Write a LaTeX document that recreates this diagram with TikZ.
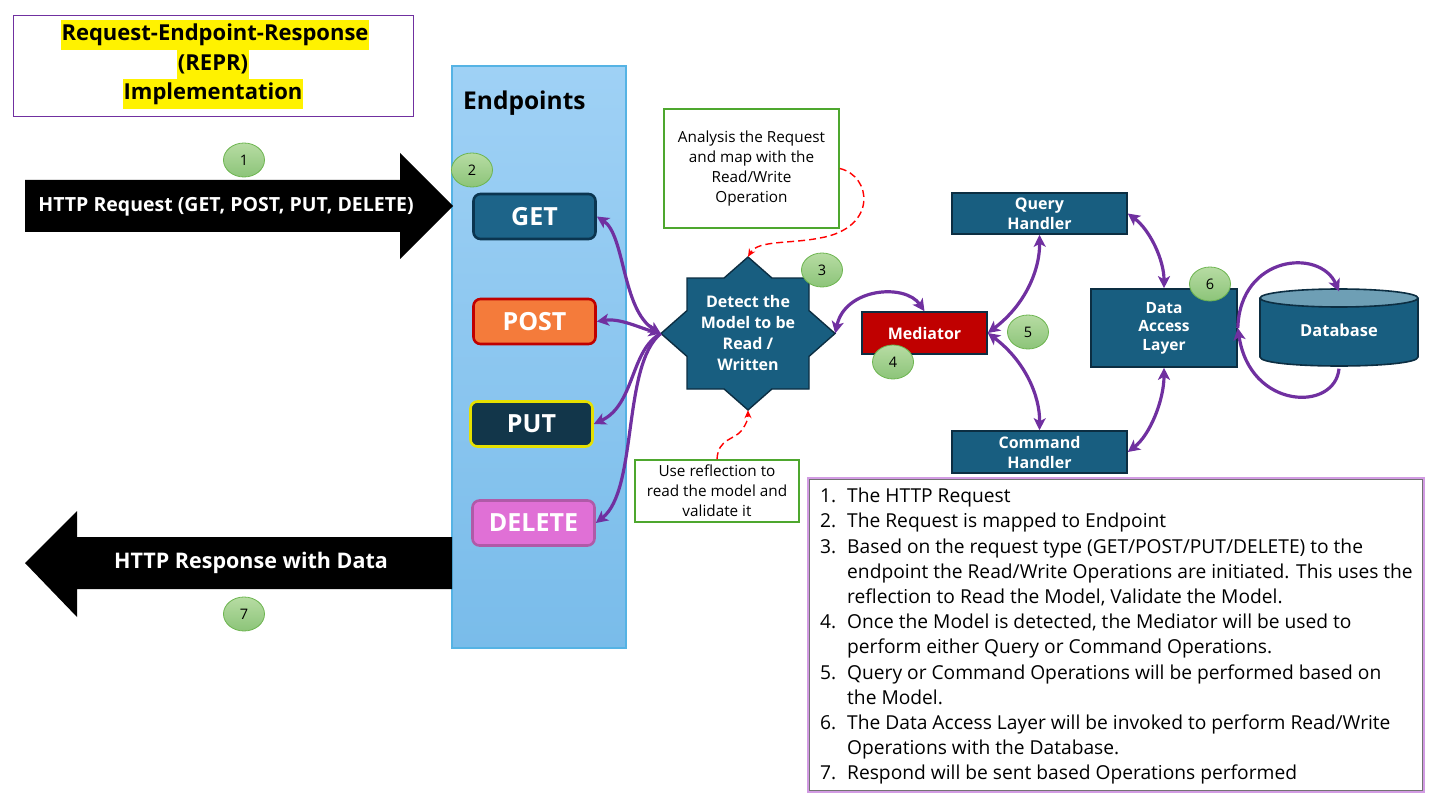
\documentclass[tikz,border=0pt]{standalone}
\usepackage{fontspec}
\setmainfont{Open Sans}
\newfontfamily\headfont{Open Sans}
\usetikzlibrary{shapes.geometric,arrows.meta}

\definecolor{navy}{HTML}{185E80}
\definecolor{navyedge}{HTML}{0C2E42}
\definecolor{medred}{HTML}{C00000}
\definecolor{linkpurple}{HTML}{7030A0}
\definecolor{notegreen}{HTML}{4EA72E}
\definecolor{badgetop}{HTML}{B7DCA3}
\definecolor{badgebot}{HTML}{8CC479}
\definecolor{badgeedge}{HTML}{6DB550}
\definecolor{paneltop}{HTML}{9FD1F5}
\definecolor{panelbot}{HTML}{79BCEA}
\definecolor{paneledge}{HTML}{55B3E4}
\definecolor{getfill}{HTML}{1D6489}
\definecolor{getedge}{HTML}{0B3550}
\definecolor{postfill}{HTML}{F47B3B}
\definecolor{postedge}{HTML}{C00000}
\definecolor{putfill}{HTML}{12364A}
\definecolor{putedge}{HTML}{E6E000}
\definecolor{delfill}{HTML}{E070D6}
\definecolor{deledge}{HTML}{B05AA8}
\definecolor{dbtop}{HTML}{6E9FB5}
\definecolor{listedge}{HTML}{D29BE3}
\definecolor{titleedge}{HTML}{7030A0}

\newcommand\fsz[2]{\fontsize{#1}{#2}\selectfont}

\tikzset{
  ptip/.tip={Stealth[length=12pt,width=12pt,inset=3pt]},
  rtip/.tip={Stealth[length=8pt,width=7pt]},
  link/.style={draw=linkpurple, line width=3.2pt},
  cue/.style={draw=red, line width=1.4pt, dash pattern=on 7pt off 4pt, -rtip},
  badge/.style={ellipse, minimum width=41, minimum height=34, inner sep=0,
    draw=badgeedge, line width=0.8pt, top color=badgetop, bottom color=badgebot,
    font=\fsz{14.5}{15}},
  note/.style={draw=notegreen, line width=1.5pt, fill=white, align=center,
    font=\fsz{15.3}{20}, inner sep=0},
  navybox/.style={draw=navyedge, fill=navy, line width=1.6pt, text=white,
    align=center, inner sep=0, font=\headfont\bfseries\fsz{16}{20}},
  button/.style={rounded corners=7pt, line width=2.6pt, minimum width=122,
    minimum height=45, inner sep=0, text=white,
    font=\headfont\bfseries\fsz{25}{25}},
  arrowtext/.style={text=white, inner sep=0, font=\headfont\bfseries\fsz{19.5}{20}},
  hilite/.style={fill=yellow, inner xsep=1pt, inner ysep=0, minimum height=29.5,
    font=\headfont\bfseries\fsz{22}{22}}
}

\begin{document}
\begin{tikzpicture}[x=1pt,y=-1pt]
\useasboundingbox (0,0) rectangle (1430,805);

% title
\node[draw=titleedge, line width=0.9pt, minimum width=400, minimum height=101, inner sep=0] (title) at (213,65.5) {};
\node[hilite] (t1) at (215,35) {Request-Endpoint-Response};
\node[hilite] (t2) at (213,64.5) {(REPR)};
\node[hilite] (t3) at (213,94) {Implementation};

% endpoints panel
\node[draw=paneledge, line width=1.2pt, top color=paneltop, bottom color=panelbot,
      minimum width=174, minimum height=582, inner sep=0] (panel) at (539,357) {};
\node[anchor=west, inner sep=0, font=\headfont\bfseries\fsz{24.5}{25}] (eptitle) at (463,103) {Endpoints};

% request / response arrows
\fill[black] (25,180) -- (400,180) -- (400,153) -- (453,206) -- (400,259) -- (400,232) -- (25,232) -- cycle;
\node[arrowtext] (req) at (226,207) {HTTP Request (GET, POST, PUT, DELETE)};
\fill[black] (25,563) -- (77,511) -- (77,537) -- (452,537) -- (452,589) -- (77,589) -- (77,617) -- cycle;
\node[arrowtext, font=\headfont\bfseries\fsz{21.5}{22}] (resp) at (251,563) {HTTP Response with Data};

% endpoint buttons
\node[button, draw=getedge, fill=getfill] (get) at (534.5,216.5) {GET};
\node[button, draw=postedge, fill=postfill] (post) at (534.5,321.5) {POST};
\node[button, draw=putedge, fill=putfill] (put) at (531.5,424) {PUT};
\node[button, draw=deledge, fill=delfill] (delete) at (533.5,523) {DELETE};

% model detection star
\node[minimum width=174, minimum height=153, inner sep=0] (star) at (748,333.5) {};
\draw[shift={(star.center)}, fill=navy, draw=navyedge, line width=1.4pt]
  (0,-76.5) -- (23.9,-55.5) -- (61,-55.5) -- (61,-22.9) -- (87,0) -- (61,22.9) -- (61,55.5)
  -- (23.9,55.5) -- (0,76.5) -- (-23.9,55.5) -- (-61,55.5) -- (-61,22.9) -- (-87,0)
  -- (-61,-22.9) -- (-61,-55.5) -- (-23.9,-55.5) -- cycle;
\node[text=white, align=center, inner sep=0, font=\headfont\bfseries\fsz{16}{21.3}] (startext) at (748,333) {Detect the\\Model to be\\Read /\\Written};

% notes
\node[note, minimum width=175, minimum height=119] (analysis) at (751.5,168.5) {Analysis the Request\\and map with the\\Read/Write\\Operation};
\node[note, minimum width=164, minimum height=62] (reflect) at (717,491) {Use reflection to\\read the model and\\validate it};

% mediator and handlers
\node[navybox, fill=medred, minimum width=125, minimum height=42] (med) at (924.5,333) {Mediator};
\node[navybox, minimum width=175, minimum height=41] (qh) at (1039.5,213.5) {Query\\Handler};
\node[navybox, minimum width=175, minimum height=42] (ch) at (1039.5,452) {Command\\Handler};
\node[navybox, minimum width=146, minimum height=78, font=\headfont\bfseries\fsz{15.5}{18.5}] (dal) at (1164,328) {Data\\Access\\Layer};

% database cylinder
\fill[navy] (1260,298) -- (1260,357) .. controls (1260,369) and (1418,369) .. (1418,357) -- (1418,298) -- cycle;
\draw[navyedge, line width=1.6pt] (1260,298) -- (1260,357) .. controls (1260,369) and (1418,369) .. (1418,357) -- (1418,298);
\draw[navyedge, line width=1.6pt, fill=dbtop] (1339,298) ellipse [x radius=79, y radius=9];
\node[minimum width=158, minimum height=77, inner sep=0, text=white,
      font=\headfont\bfseries\fsz{16.5}{20}] (db) at (1339,330) {Database};

% step badges
\node[badge] (b1) at (244,160) {1};
\node[badge] (b2) at (472,170) {2};
\node[badge] (b3) at (822,270) {3};
\node[badge] (b4) at (893,362) {4};
\node[badge] (b5) at (1028,332) {5};
\node[badge] (b6) at (1210,284) {6};
\node[badge] (b7) at (244,614) {7};

% purple connectors
\draw[link, arrows={ptip-ptip}] (get.east) .. controls (625,235) and (622,310) .. (star.west);
\draw[link, arrows={ptip-ptip}] (post.east) .. controls (620,318) and (640,328) .. (star.west);
\draw[link, arrows={-ptip}] (star.west) .. controls (630,350) and (635,405) .. (put.east);
\draw[link, arrows={-ptip}] (star.west) .. controls (622,365) and (638,490) .. (delete.east);
\draw[link, arrows={ptip-ptip}] (star.east) .. controls (845,288) and (905,283) .. (med.north);
\draw[link, arrows={ptip-ptip}] (med.east) .. controls (1025,305) and (1040,270) .. (qh.south);
\draw[link, arrows={ptip-ptip}] (med.east) .. controls (1025,361) and (1040,396) .. (ch.north);
\draw[link, arrows={ptip-ptip}] (qh.east) .. controls (1150,230) and (1164,260) .. (dal.north);
\draw[link, arrows={ptip-ptip}] (ch.east) .. controls (1150,435) and (1164,400) .. (dal.south);
\draw[link, arrows={-ptip}] (dal.east) .. controls (1240,255) and (1320,248) .. (db.north);
\draw[link, arrows={-ptip}] (db.south) .. controls (1335,412) and (1250,410) .. (dal.east);

% red dashed cues
\draw[cue] (analysis.east) .. controls (872,176) and (878,228) .. (820,238) .. controls (790,244) and (758,240) .. (star.north);
\draw[cue] (reflect.north) .. controls (718,438) and (735,440) .. (742,430) .. controls (746,424) and (748,420) .. (star.south);

% legend
\node[draw=listedge, line width=2.6pt, fill=white, minimum width=616, minimum height=314, inner sep=0] (legend) at (1116,635) {};
\draw[black!55, line width=1.4pt] ([shift={(3,3)}]legend.north west) rectangle ([shift={(-3,-3)}]legend.south east);
\node[anchor=north west, inner sep=0, align=left, font=\fsz{19.2}{25.2}] (legendtext) at (820,488) {%
\makebox[27pt][l]{1.}The HTTP Request\\
\makebox[27pt][l]{2.}The Request is mapped to Endpoint\\
\makebox[27pt][l]{3.}Based on the request type (GET/POST/PUT/DELETE) to the\\
\hspace*{27pt}endpoint the Read/Write Operations are initiated. This uses the\\
\hspace*{27pt}reflection to Read the Model, Validate the Model.\\
\makebox[27pt][l]{4.}Once the Model is detected, the Mediator will be used to\\
\hspace*{27pt}perform either Query or Command Operations.\\
\makebox[27pt][l]{5.}Query or Command Operations will be performed based on\\
\hspace*{27pt}the Model.\\
\makebox[27pt][l]{6.}The Data Access Layer will be invoked to perform Read/Write\\
\hspace*{27pt}Operations with the Database.\\
\makebox[27pt][l]{7.}Respond will be sent based Operations performed};
\end{tikzpicture}
\end{document}
